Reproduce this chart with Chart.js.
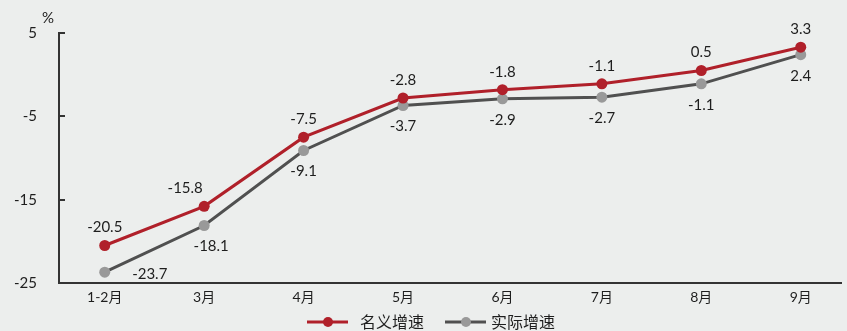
<!DOCTYPE html>
<html>
<head>
<meta charset="utf-8">
<script src="https://cdn.jsdelivr.net/npm/chart.js@4.4.0/dist/chart.umd.min.js"></script>
<style>
    html, body { margin: 0; padding: 0; background: #eceeed; }
    #wrap { width: 847px; height: 331px; position: relative; }
</style>
</head>
<body>
<div id="wrap"><canvas id="chart-crecimiento"></canvas></div>
<script>
// Datos del gráfico
const categorias = ['1-2月', '3月', '4月', '5月', '6月', '7月', '8月', '9月'];
const nombreNominal = '名义增速';
const nombreReal = '实际增速';
const valoresNominal = [-20.5, -15.8, -7.5, -2.8, -1.8, -1.1, 0.5, 3.3];
const valoresReal = [-23.7, -18.1, -9.1, -3.7, -2.9, -2.7, -1.1, 2.4];
const ticksY = [5, -5, -15, -25];

const COLOR_ROJO = '#b0202a';
const COLOR_LINEA_GRIS = '#505050';
const COLOR_PUNTO_GRIS = '#999999';
const COLOR_TEXTO = '#1e1e1e';
const FUENTE = 'Lato, "Noto Sans CJK SC", sans-serif';

// Desplazamientos de etiquetas (estilo, no datos)
const ajusteNominal = { 1: [-19, 0] };
const ajusteReal = { 0: [45, -19], 1: [7, 0] };

/**
 * Plugin para etiquetas de datos, ticks interiores, unidad y leyenda
 */
const pluginDecoracion = {
    id: 'decoracion',
    afterDatasetsDraw(chart) {
        const ctx = chart.ctx;
        ctx.save();
        ctx.font = '15px ' + FUENTE;
        ctx.fillStyle = COLOR_TEXTO;
        ctx.textAlign = 'center';
        ctx.textBaseline = 'middle';

        chart.getDatasetMeta(0).data.forEach((p, i) => {
            const aj = ajusteNominal[i] || [0, 0];
            ctx.fillText(valoresNominal[i].toFixed(1), p.x + aj[0], p.y - 18 + aj[1]);
        });
        chart.getDatasetMeta(1).data.forEach((p, i) => {
            const aj = ajusteReal[i] || [0, 0];
            ctx.fillText(valoresReal[i].toFixed(1), p.x + aj[0], p.y + 21 + aj[1]);
        });

        // Ticks hacia dentro en el eje Y
        const y = chart.scales.y;
        ctx.strokeStyle = '#333';
        ctx.lineWidth = 2;
        ticksY.forEach(v => {
            const py = Math.round(y.getPixelForValue(v));
            ctx.beginPath();
            ctx.moveTo(y.right, py);
            ctx.lineTo(y.right + 6, py);
            ctx.stroke();
        });

        // Unidad
        ctx.fillText('%', 48, 18);

        // Leyenda
        const ly = 322;
        const items = [
            { x: 307, tx: 360, linea: COLOR_ROJO, punto: COLOR_ROJO, texto: nombreNominal },
            { x: 445, tx: 491, linea: COLOR_LINEA_GRIS, punto: COLOR_PUNTO_GRIS, texto: nombreReal }
        ];
        ctx.font = '16px ' + FUENTE;
        items.forEach(it => {
            ctx.strokeStyle = it.linea;
            ctx.lineWidth = 3;
            ctx.beginPath();
            ctx.moveTo(it.x, ly);
            ctx.lineTo(it.x + 41, ly);
            ctx.stroke();
            ctx.fillStyle = it.punto;
            ctx.beginPath();
            ctx.arc(it.x + 21, ly, 5, 0, Math.PI * 2);
            ctx.fill();
            ctx.fillStyle = COLOR_TEXTO;
            ctx.textAlign = 'left';
            ctx.fillText(it.texto, it.tx, ly + 1);
        });
        ctx.restore();
    }
};

const ctx = document.getElementById('chart-crecimiento').getContext('2d');

new Chart(ctx, {
    type: 'line',
    data: {
        labels: categorias,
        datasets: [{
            label: nombreNominal,
            data: valoresNominal.map((v, i) => ({ x: i, y: v })),
            borderColor: COLOR_ROJO,
            backgroundColor: COLOR_ROJO,
            borderWidth: 3,
            pointRadius: 5.5,
            pointBorderWidth: 0,
            pointBackgroundColor: COLOR_ROJO,
            tension: 0
        }, {
            label: nombreReal,
            data: valoresReal.map((v, i) => ({ x: i, y: v })),
            borderColor: COLOR_LINEA_GRIS,
            backgroundColor: COLOR_PUNTO_GRIS,
            borderWidth: 3,
            pointRadius: 5.5,
            pointBorderWidth: 0,
            pointBackgroundColor: COLOR_PUNTO_GRIS,
            tension: 0
        }]
    },
    options: {
        responsive: true,
        maintainAspectRatio: false,
        animation: false,
        layout: {
            padding: { top: 33, right: 0, bottom: 24, left: 0 }
        },
        plugins: {
            legend: { display: false },
            tooltip: { enabled: false }
        },
        scales: {
            x: {
                type: 'linear',
                min: -0.46,
                max: 7.41,
                afterBuildTicks: (scale) => {
                    scale.ticks = categorias.map((c, i) => ({ value: i }));
                },
                afterFit: (scale) => { scale.height = 24; },
                ticks: {
                    callback: (v) => categorias[v],
                    color: COLOR_TEXTO,
                    font: { size: 14, family: FUENTE },
                    padding: 6,
                    maxRotation: 0,
                    autoSkip: false
                },
                grid: { display: false, drawTicks: false },
                border: { color: '#333', width: 2 }
            },
            y: {
                min: -25,
                max: 5,
                afterBuildTicks: (scale) => {
                    scale.ticks = ticksY.map(v => ({ value: v }));
                },
                afterFit: (scale) => { scale.width = 59; },
                ticks: {
                    color: COLOR_TEXTO,
                    font: { size: 15, family: FUENTE },
                    padding: 22
                },
                grid: { display: false, drawTicks: false },
                border: { color: '#333', width: 2 }
            }
        }
    },
    plugins: [pluginDecoracion]
});
</script>
</body>
</html>
